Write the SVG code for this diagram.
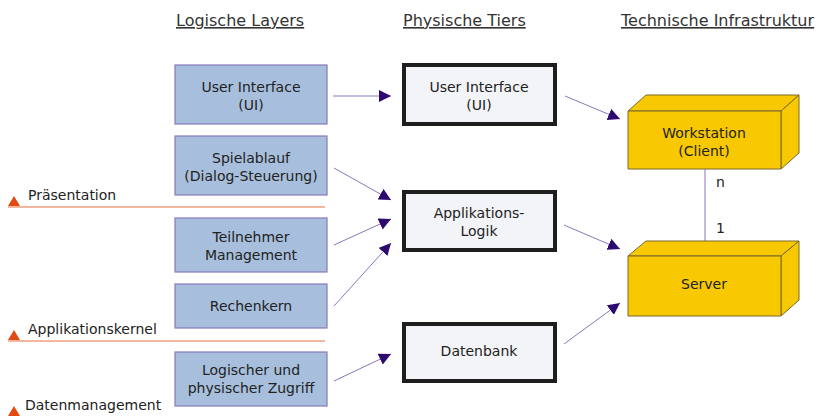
<svg xmlns="http://www.w3.org/2000/svg" width="819" height="416" viewBox="0 0 819 416">
<style>
text{font-family:"DejaVu Sans",Verdana,sans-serif;fill:#222;font-size:14px}
.hdr{font-size:16px;fill:#333;text-decoration:underline}
.lay{font-size:14px}
.lg rect{fill:#a7bfdc;stroke:#8878bc;stroke-width:1.2}
.ph rect{fill:#f3f4f7;stroke:#1e1e1e;stroke-width:4}
.hw polygon{fill:#f8c800;stroke:#7a6830;stroke-width:1}
.c{stroke:#8878bc;stroke-width:1;fill:none}
.sep{stroke:#f0a080;stroke-width:1.5}
.tri{fill:#e24a10}
</style>
<defs>
<marker id="ah" viewBox="0 0 10 10" refX="10" refY="5" markerWidth="12" markerHeight="12" markerUnits="userSpaceOnUse" orient="auto">
<path d="M0,0 L10,5 L0,10 z" fill="#2c0a70"/>
</marker>
</defs>
<g id="headers">
<text class="hdr" x="176" y="26">Logische Layers</text>
<text class="hdr" x="403" y="26">Physische Tiers</text>
<text class="hdr" x="621" y="26">Technische Infrastruktur</text>
</g>
<g id="layers">
<line class="sep" x1="8" y1="207" x2="325" y2="207"/>
<line class="sep" x1="8" y1="341" x2="325" y2="341"/>
<polygon class="tri" points="8,206 14,196 20,206"/>
<polygon class="tri" points="8,340 14,330 20,340"/>
<polygon class="tri" points="8,416 14,406 20,416"/>
<text class="lay" x="28" y="200">Präsentation</text>
<text class="lay" x="28" y="334">Applikationskernel</text>
<text class="lay" x="25" y="410">Datenmanagement</text>
</g>
<g id="connectors">
<line class="c" x1="333" y1="96" x2="391" y2="96" marker-end="url(#ah)"/>
<line class="c" x1="334" y1="168" x2="391" y2="200" marker-end="url(#ah)"/>
<line class="c" x1="334" y1="245" x2="391" y2="219" marker-end="url(#ah)"/>
<line class="c" x1="334" y1="306" x2="391" y2="243" marker-end="url(#ah)"/>
<line class="c" x1="334" y1="381" x2="391" y2="354" marker-end="url(#ah)"/>
<line class="c" x1="565" y1="96" x2="620" y2="119" marker-end="url(#ah)"/>
<line class="c" x1="564" y1="225" x2="620" y2="249" marker-end="url(#ah)"/>
<line class="c" x1="564" y1="344" x2="620" y2="303" marker-end="url(#ah)"/>
<line class="c" x1="705" y1="169" x2="705" y2="248"/>
<text x="716" y="187">n</text>
<text x="716" y="233">1</text>
</g>
<g id="ui" class="lg"><rect x="175" y="65" width="152" height="59"/><text x="251" y="92" text-anchor="middle">User Interface</text><text x="251" y="110" text-anchor="middle">(UI)</text></g>
<g id="spielablauf" class="lg"><rect x="175" y="136" width="152" height="59"/><text x="251" y="163" text-anchor="middle">Spielablauf</text><text x="251" y="181" text-anchor="middle">(Dialog-Steuerung)</text></g>
<g id="teilnehmer" class="lg"><rect x="175" y="218" width="152" height="54"/><text x="251" y="242" text-anchor="middle">Teilnehmer</text><text x="251" y="260" text-anchor="middle">Management</text></g>
<g id="rechenkern" class="lg"><rect x="175" y="284" width="152" height="44"/><text x="251" y="311" text-anchor="middle">Rechenkern</text></g>
<g id="zugriff" class="lg"><rect x="175" y="352" width="152" height="54"/><text x="251" y="375" text-anchor="middle">Logischer und</text><text x="251" y="393" text-anchor="middle">physischer Zugriff</text></g>
<g id="ui-tier" class="ph"><rect x="404" y="65" width="151" height="59"/><text x="479" y="92" text-anchor="middle">User Interface</text><text x="479" y="110" text-anchor="middle">(UI)</text></g>
<g id="app-tier" class="ph"><rect x="404" y="192" width="151" height="58"/><text x="479" y="218" text-anchor="middle">Applikations-</text><text x="479" y="236" text-anchor="middle">Logik</text></g>
<g id="db-tier" class="ph"><rect x="404" y="324" width="151" height="57"/><text x="479" y="356" text-anchor="middle">Datenbank</text></g>
<g id="workstation" class="hw">
<polygon points="628,111 646,95 799,95 781,111"/>
<polygon points="781,111 799,95 799,153 781,169"/>
<polygon points="628,111 781,111 781,169 628,169"/>
<text x="704" y="138" text-anchor="middle">Workstation</text><text x="704" y="156" text-anchor="middle">(Client)</text>
</g>
<g id="server" class="hw">
<polygon points="628,256 646,241 799,241 781,256"/>
<polygon points="781,256 799,241 799,300 781,316"/>
<polygon points="628,256 781,256 781,316 628,316"/>
<text x="704" y="289" text-anchor="middle">Server</text>
</g>
</svg>
